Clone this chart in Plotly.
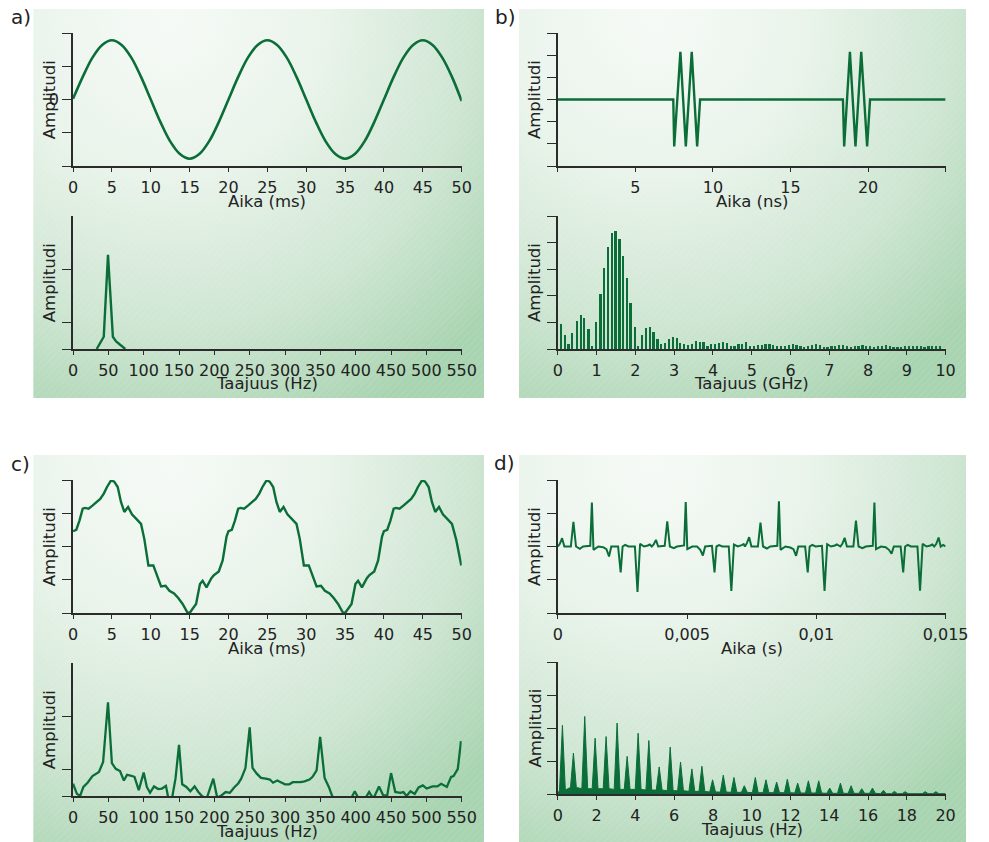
import base64
import plotly.graph_objects as go

W, H = 989, 842
GREEN = "#0b6e38"
AXC = "#2b2b2b"
FONT = "DejaVu Sans"

# ---------------- data ----------------
# a) 50 Hz sine, time (ms) / amplitude
a_time = [0, 1.25, 2.5, 3.75, 5, 6.25, 7.5, 8.75, 10, 11.25, 12.5, 13.75, 15, 16.25, 17.5, 18.75,
          20, 21.25, 22.5, 23.75, 25, 26.25, 27.5, 28.75, 30, 31.25, 32.5, 33.75, 35, 36.25, 37.5, 38.75,
          40, 41.25, 42.5, 43.75, 45, 46.25, 47.5, 48.75, 50]
a_amp = [0.02, 0.68, 1.26, 1.64, 1.78, 1.64, 1.26, 0.68, 0, -0.68, -1.26, -1.64, -1.78, -1.64, -1.26, -0.68,
         0, 0.68, 1.26, 1.64, 1.78, 1.64, 1.26, 0.68, 0, -0.68, -1.26, -1.64, -1.78, -1.64, -1.26, -0.68,
         0, 0.68, 1.26, 1.64, 1.78, 1.64, 1.26, 0.68, -0.05]
a_freq = [33.5, 43.5, 49.5, 56.4, 61, 74]
a_spec = [0.5, 0.73, 2.27, 0.73, 0.64, 0.5]

# b) pulse bursts, time (ns)
b_time = [0, 7.44, 7.5, 7.9, 8.25, 8.63, 8.98, 9.17, 18.38, 18.46, 18.83, 19.19, 19.56, 19.94, 20.13, 25]
b_amp = [0, 0, -2.12, 2.15, -2.12, 2.15, -2.12, 0, 0, -2.12, 2.15, -2.12, 2.15, -2.12, 0, 0]
b_freq = [0.075, 0.19, 0.28, 0.37, 0.49, 0.59, 0.675, 0.79, 0.88, 0.98, 1.1, 1.2, 1.29, 1.4, 1.49, 1.59,
          1.69, 1.79, 1.875, 1.99, 2.075, 2.17, 2.28, 2.375, 2.47, 2.575, 2.67, 2.77, 2.87, 2.97, 3.07,
          3.16, 3.26, 3.36,
          3.46, 3.56, 3.66, 3.76, 3.86, 3.96, 4.06, 4.16, 4.26, 4.36, 4.46, 4.56, 4.66, 4.76, 4.86, 4.96,
          5.06, 5.16, 5.26, 5.36, 5.46, 5.56, 5.66, 5.76, 5.86, 5.96, 6.06, 6.16, 6.26, 6.36, 6.46, 6.56,
          6.66, 6.76, 6.86, 6.96, 7.06, 7.16, 7.26, 7.36, 7.46, 7.56, 7.66, 7.76, 7.86, 7.96, 8.06, 8.16,
          8.26, 8.36, 8.46, 8.56, 8.66, 8.76, 8.86, 8.96, 9.06, 9.16, 9.26, 9.36, 9.46, 9.56, 9.66, 9.76, 9.86]
b_spec = [0.94, 0.53, 0.19, 0.59, 1.06, 1.28, 1.18, 0.77, 0.13, 1.0, 2.07, 3.05, 3.85, 4.35, 4.42, 4.12,
          3.5, 2.68, 1.74, 0.83, 0.13, 0.53, 0.79, 0.83, 0.63, 0.38, 0.18, 0.24, 0.39, 0.45, 0.42,
          0.21, 0.18, 0.15,
          0.2, 0.3, 0.28, 0.25, 0.12, 0.18, 0.2, 0.22, 0.25, 0.22, 0.12, 0.12, 0.18, 0.2, 0.25, 0.12,
          0.1, 0.14, 0.16, 0.2, 0.18, 0.14, 0.12, 0.12, 0.1, 0.16, 0.18, 0.14, 0.1, 0.08, 0.12, 0.16,
          0.18, 0.14, 0.08, 0.05, 0.1, 0.12, 0.16, 0.14, 0.1, 0.08, 0.1, 0.12, 0.14, 0.12, 0.1, 0.08,
          0.1, 0.12, 0.14, 0.12, 0.08, 0.06, 0.08, 0.1, 0.12, 0.1, 0.12, 0.1, 0.08, 0.1, 0.12, 0.1, 0.12]

# c) distorted periodic signal, time (ms)
c_time = [0, 0.42, 0.83, 1.25, 1.54, 2.0, 2.5, 3.0, 3.5, 3.96, 4.37, 4.9, 5.3, 5.75, 6.17, 6.6, 7.08, 7.58,
          8.1, 8.75, 9.17, 9.7, 10.33, 10.83, 11.33, 11.9, 12.4, 13.0, 13.54, 14.1, 14.7, 15.0, 15.33, 15.83,
          16.33, 16.67, 17.17, 17.8, 18.1, 18.75, 19.25, 19.75,
          20.0, 20.42, 20.83, 21.25, 21.54, 22.0, 22.5, 23.0, 23.5, 23.96, 24.37, 24.9, 25.3, 25.75, 26.17,
          26.6, 27.08, 27.58, 28.1, 28.75, 29.17, 29.7, 30.33, 30.83, 31.33, 31.9, 32.4, 33.0, 33.54, 34.1,
          34.7, 35.0, 35.33, 35.83, 36.33, 36.67, 37.17, 37.8, 38.1, 38.75, 39.25, 39.75,
          40.0, 40.42, 40.83, 41.25, 41.54, 42.0, 42.5, 43.0, 43.5, 43.96, 44.37, 44.9, 45.3, 45.75, 46.17,
          46.6, 47.08, 47.58, 48.1, 48.75, 49.3, 49.95]
c_amp = [0.46, 0.5, 0.78, 1.14, 1.16, 1.14, 1.23, 1.33, 1.43, 1.59, 1.79, 1.99, 1.95, 1.79, 1.34, 1.04, 1.19,
         0.97, 0.83, 0.68, 0.23, -0.57, -0.57, -0.92, -1.2, -1.18, -1.33, -1.41, -1.55, -1.73, -1.98, -2.0,
         -1.9, -1.73, -1.13, -1.03, -1.23, -0.95, -0.87, -0.75, -0.42, 0.3,
         0.46, 0.5, 0.78, 1.14, 1.16, 1.14, 1.23, 1.33, 1.43, 1.59, 1.79, 1.99, 1.95, 1.79, 1.34,
         1.04, 1.19, 0.97, 0.83, 0.68, 0.23, -0.57, -0.57, -0.92, -1.2, -1.18, -1.33, -1.41, -1.55, -1.73,
         -1.98, -2.0, -1.9, -1.73, -1.13, -1.03, -1.23, -0.95, -0.87, -0.75, -0.42, 0.3,
         0.46, 0.5, 0.78, 1.14, 1.16, 1.14, 1.23, 1.33, 1.43, 1.59, 1.79, 1.99, 1.95, 1.79, 1.34,
         1.04, 1.19, 0.97, 0.83, 0.68, 0.2, -0.57]
c_freq = [0, 5.5, 10, 14.7, 20.6, 27.5, 36.7, 42.6, 49.5, 55, 60.5, 66.5, 72, 76.5, 82.5, 87, 93, 100,
          104.5, 109, 114.6, 120.5, 126, 131.5, 135, 140, 145, 150, 154.5, 160.4, 166, 172, 177.4, 182.4,
          189, 198.5, 204, 210, 216, 222, 228, 234, 238, 244, 250, 254, 260, 266, 272.7, 278.6, 283, 289,
          294, 300, 306, 311, 316, 322, 327.7, 334.6, 339, 344.7, 349.7, 356, 362, 366.7, 376, 390, 398.7,
          403, 412, 419, 425, 433, 439, 444.6, 450, 456, 463, 467.5, 472, 477.5, 483.5, 489, 495, 500.5,
          508.7, 515.6, 521, 529, 535, 538.5, 544.5, 549]
c_spec = [0.73, 0.54, 0.5, 0.67, 0.75, 0.875, 0.95, 1.14, 2.26, 1.12, 1.01, 0.97, 0.79, 0.9, 0.88, 0.86,
          0.61, 0.94, 0.67, 0.56, 0.68, 0.63, 0.64, 0.69, 0.45, 0.45, 0.825, 1.46, 0.72, 0.67, 0.59, 0.68,
          0.575, 0.5, 0.45, 0.825, 0.47, 0.51, 0.575, 0.56, 0.66, 0.74, 0.825, 1.025, 1.79, 1.03, 0.92,
          0.84, 0.825, 0.81, 0.75, 0.79, 0.76, 0.72, 0.72, 0.76, 0.76, 0.76, 0.775, 0.81, 0.86, 0.98, 1.61,
          0.84, 0.67, 0.5, 0.36, 0.36, 0.59, 0.48, 0.42, 0.575, 0.45, 0.68, 0.51, 0.51, 0.93, 0.575, 0.56,
          0.575, 0.5, 0.59, 0.54, 0.66, 0.7, 0.64, 0.68, 0.68, 0.73, 0.67, 0.86, 0.875, 1.01, 1.53]

# d) periodic pulse signal, time (ms) and spectrum (Hz)
d_time_ms = [0, 0.075, 0.163, 0.250, 0.501, 0.601, 0.701, 0.851, 0.977, 1.252, 1.315, 1.377, 1.565, 1.753,
             1.878, 1.978, 2.066, 2.329, 2.429, 2.504, 2.604, 2.730, 2.980, 3.080, 3.180, 3.331, 3.481, 3.556,
             3.631, 3.706, 3.794, 3.881, 4.132, 4.232, 4.332, 4.482, 4.608, 4.883, 4.946, 5.008, 5.196, 5.384,
             5.509, 5.609, 5.697, 5.960, 6.060, 6.135, 6.235, 6.361, 6.611, 6.711, 6.811, 6.962, 7.112, 7.187,
             7.237, 7.312, 7.400, 7.487, 7.738, 7.838, 7.938, 8.088, 8.214, 8.489, 8.552, 8.614, 8.802, 8.990,
             9.115, 9.215, 9.303, 9.566, 9.666, 9.741, 9.841, 9.967, 10.217, 10.317, 10.417, 10.568, 10.718,
             10.793, 10.931, 11.006, 11.094, 11.181, 11.432, 11.532, 11.632, 11.782, 11.908, 12.183, 12.246,
             12.308, 12.496, 12.684, 12.809, 12.909, 12.997, 13.260, 13.360, 13.435, 13.535, 13.661, 13.911,
             14.011, 14.111, 14.262, 14.412, 14.487, 14.56, 14.64, 14.73, 14.81, 14.90, 15.0]
d_amp = [0.0, 0.08, 0.25, 0.0, 0.0, 0.74, 0.0, -0.07, 0.0, 0.02, 1.32, -0.1, 0.0, -0.02, -0.08, -0.3, 0.0,
         0.0, -0.78, 0.0, 0.05, 0.0, 0.0, -1.37, 0.08, 0.0, 0.03, 0.06,
         0.0, 0.06, 0.2, 0.0, 0.02, 0.76, 0.0, -0.05, 0.0, 0.03, 1.34, -0.08, 0.0, 0.0, -0.1, -0.27, 0.0,
         0.02, -0.78, 0.0, 0.04, 0.0, 0.0, -1.34, 0.06, 0.0, 0.04, 0.07,
         0.0, 0.1, 0.28, 0.0, 0.0, 0.72, 0.0, -0.06, 0.0, 0.02, 1.36, -0.1, 0.0, -0.03, -0.08, -0.28, 0.0,
         0.0, -0.78, 0.0, 0.05, 0.0, 0.02, -1.34, 0.07, 0.0, 0.03, 0.06,
         0.0, 0.08, 0.26, 0.0, 0.0, 0.78, 0.0, -0.05, 0.0, 0.02, 1.32, -0.08, 0.0, -0.02, -0.1, -0.22, 0.0,
         0.0, -0.78, 0.0, 0.05, 0.0, 0.0, -1.33, 0.08, 0.0, 0.03, 0.06,
         0.0, 0.08, 0.27, 0.0, 0.05, 0.0]
d_peak_f = [0.234, 0.801, 1.386, 1.920, 2.487, 3.055, 3.573, 4.140, 4.691, 5.225, 5.793, 6.327, 6.911,
            7.429, 7.980, 8.531, 9.082, 9.616, 10.183, 10.734, 11.285, 11.836, 12.370, 12.921, 13.455,
            14.023, 14.574, 15.125, 15.676, 16.227, 16.794, 17.362, 17.913, 18.948, 19.499]
d_peak_h = [2.08, 1.24, 2.35, 1.69, 1.74, 2.15, 1.14, 1.84, 1.62, 0.82, 1.42, 0.97, 0.76, 0.84, 0.43,
            0.57, 0.50, 0.25, 0.50, 0.43, 0.36, 0.45, 0.33, 0.40, 0.40, 0.18, 0.33, 0.25, 0.16, 0.18,
            0.11, 0.08, 0.07, 0.07, 0.07]
d_foot_h = [0.12, 0.2, 0.16, 0.16, 0.16, 0.14, 0.14, 0.14, 0.12, 0.12, 0.1, 0.1, 0.08, 0.08, 0.06, 0.06,
            0.05, 0.05, 0.04, 0.04, 0.04, 0.04, 0.03, 0.03, 0.03, 0.02, 0.02, 0.02, 0.02, 0.02, 0.01,
            0.01, 0.01, 0.01, 0.01]

# ---------------- layout helpers (picture pixels) ----------------
def px(x):
    return x / W


def py(y):
    return 1 - y / H


def xd(x0, x1):
    return [px(x0), px(x1)]


def yd(y0, y1):
    return [py(y1), py(y0)]


def bg_svg(w, h):
    svg = f'''<svg xmlns="http://www.w3.org/2000/svg" width="{w}" height="{h}" viewBox="0 0 {w} {h}">
<defs>
<radialGradient id="g" gradientUnits="userSpaceOnUse" cx="{0.3*w:.1f}" cy="{0.02*h:.1f}" r="{0.95*w:.1f}">
<stop offset="0" stop-color="#f6faf6"/>
<stop offset="0.35" stop-color="#eaf4eb"/>
<stop offset="0.7" stop-color="#cfe6d3"/>
<stop offset="1" stop-color="#a9d4b1"/>
</radialGradient>
<pattern id="p" width="5" height="5" patternUnits="userSpaceOnUse" patternTransform="rotate(45)">
<line x1="0" y1="0" x2="0" y2="5" stroke="#ffffff" stroke-width="0.6" stroke-opacity="0.28"/>
</pattern>
</defs>
<rect width="{w}" height="{h}" fill="url(#g)"/>
<rect width="{w}" height="{h}" fill="url(#p)"/>
</svg>'''
    return "data:image/svg+xml;base64," + base64.b64encode(svg.encode()).decode()


fig = go.Figure()

# panel backgrounds
boxes = [(29, 9, 493, 398), (529, 9, 989, 398), (29, 455, 493, 842), (529, 455, 989, 842)]
images = []
for (x0, y0, x1, y1) in boxes:
    images.append(dict(source=bg_svg(x1 - x0, y1 - y0), xref="paper", yref="paper",
                       x=px(x0), y=py(y0), sizex=(x1 - x0) / W, sizey=(y1 - y0) / H,
                       xanchor="left", yanchor="top", sizing="stretch", layer="below"))

# subplot geometry (picture pixels)
plots = {
    1: ((70, 470), (33, 166)),
    2: ((70, 470), (216, 349)),
    3: ((569, 968), (33, 166)),
    4: ((569, 968), (216, 349)),
    5: ((70, 470), (480, 613)),
    6: ((70, 470), (663, 796)),
    7: ((569, 968), (480, 613)),
    8: ((569, 968), (662, 794)),
}

tickfont = dict(family=FONT, size=16, color="#222")
common = dict(showline=True, linecolor=AXC, linewidth=1.6, ticks="outside", tickcolor=AXC, tickwidth=1.4,
              showgrid=False, zeroline=False, fixedrange=True, tickfont=tickfont, layer="above traces")

xcfg = {
    1: dict(range=[0, 50], tickvals=[0, 5, 10, 15, 20, 25, 30, 35, 40, 45, 50]),
    2: dict(range=[0, 550], tickvals=list(range(0, 551, 50))),
    3: dict(range=[0, 25], tickvals=[0, 5, 10, 15, 20, 25], ticktext=["", "5", "10", "15", "20", ""]),
    4: dict(range=[0, 10], tickvals=list(range(0, 11))),
    5: dict(range=[0, 50], tickvals=[0, 5, 10, 15, 20, 25, 30, 35, 40, 45, 50]),
    6: dict(range=[0, 550], tickvals=list(range(0, 551, 50))),
    7: dict(range=[0, 0.015], tickvals=[0, 0.005, 0.01, 0.015], ticktext=["0", "0,005", "0,01", "0,015"]),
    8: dict(range=[0, 20], tickvals=list(range(0, 21, 2))),
}
ycfg = {
    1: dict(range=[-2, 2], tickvals=[-2, -1, 0, 1, 2], ticktext=["", "", "0", "", ""], showticklabels=True),
    2: dict(range=[0.5, 3.0], tickvals=[0.5, 1, 2], showticklabels=False),
    3: dict(range=[-3, 3], tickvals=[-3, -2, -1, 0, 1, 2, 3], showticklabels=False),
    4: dict(range=[0, 5], tickvals=[0, 1, 2, 3, 4, 5], showticklabels=False),
    5: dict(range=[-2, 2], tickvals=[-2, -1, 0, 1, 2], showticklabels=False),
    6: dict(range=[0.5, 3.0], tickvals=[0.5, 1, 2], showticklabels=False),
    7: dict(range=[-2, 2], tickvals=[-2, -1, 0, 1, 2], showticklabels=False),
    8: dict(range=[0, 4], tickvals=[0, 1, 2, 3, 4], showticklabels=False),
}

layout_axes = {}
for i, ((x0, x1), (y0, y1)) in plots.items():
    xn = "xaxis" if i == 1 else f"xaxis{i}"
    yn = "yaxis" if i == 1 else f"yaxis{i}"
    ax = "x" if i == 1 else f"x{i}"
    ay = "y" if i == 1 else f"y{i}"
    layout_axes[xn] = dict(common, domain=xd(x0, x1), anchor=ay, ticklen=4, ticklabelstandoff=2, **xcfg[i])
    layout_axes[yn] = dict(common, domain=yd(y0, y1), anchor=ax, ticklen=9, **ycfg[i])


def ref(i):
    return ("x" if i == 1 else f"x{i}"), ("y" if i == 1 else f"y{i}")


def add_line(i, x, y, width, shape="linear"):
    xa, ya = ref(i)
    fig.add_trace(go.Scatter(x=x, y=y, mode="lines", xaxis=xa, yaxis=ya, showlegend=False, hoverinfo="skip",
                             line=dict(color=GREEN, width=width, shape=shape)))


add_line(1, a_time, a_amp, 2.6, "spline")
add_line(2, a_freq, a_spec, 2.4)
add_line(3, b_time, b_amp, 2.4)
xa, ya = ref(4)
fig.add_trace(go.Bar(x=b_freq, y=b_spec, width=0.045, xaxis=xa, yaxis=ya, showlegend=False,
                     marker=dict(color=GREEN, line=dict(width=0)), hoverinfo="skip"))
add_line(5, c_time, c_amp, 2.4)
add_line(6, c_freq, c_spec, 2.3)
add_line(7, [t / 1000 for t in d_time_ms], d_amp, 2.0)

# d) spectrum: narrow filled peaks built from peak positions/heights and foot levels
HW = 0.15
dx, dy = [0.0], [0.0]
for f, h, b in zip(d_peak_f, d_peak_h, d_foot_h):
    dx += [f - HW, f, f + HW]
    dy += [b, h, b]
dx.append(20.0)
dy.append(0.01)
xa, ya = ref(8)
fig.add_trace(go.Scatter(x=dx, y=dy, mode="lines", fill="tozeroy", fillcolor=GREEN, xaxis=xa, yaxis=ya,
                         line=dict(color=GREEN, width=1.0), showlegend=False, hoverinfo="skip"))

# axis titles and panel labels as annotations
tfont = dict(family=FONT, size=16.5, color="#222")
ann = []
xtitles = {1: "Aika (ms)", 2: "Taajuus (Hz)", 3: "Aika (ns)", 4: "Taajuus (GHz)",
           5: "Aika (ms)", 6: "Taajuus (Hz)", 7: "Aika (s)", 8: "Taajuus (Hz)"}
for i, ((x0, x1), (y0, y1)) in plots.items():
    ann.append(dict(text=xtitles[i], x=px((x0 + x1) / 2), y=py(y1 + 35), xref="paper", yref="paper",
                    xanchor="center", yanchor="middle", showarrow=False, font=tfont))
    ytx = 46 if x0 < 300 else 545
    ann.append(dict(text="Amplitudi", x=px(ytx), y=py((y0 + y1) / 2), xref="paper",
                    yref="paper", xanchor="center", yanchor="middle", showarrow=False, font=tfont, textangle=-90))

for lab, (lx, ly) in {"a)": (16, 17), "b)": (515, 17), "c)": (16, 464), "d)": (514, 463)}.items():
    ann.append(dict(text=lab, x=px(lx), y=py(ly), xref="paper", yref="paper", xanchor="center",
                    yanchor="middle", showarrow=False, font=dict(family=FONT, size=20, color="#222")))

fig.update_layout(width=W, height=H, margin=dict(l=0, r=0, t=0, b=0), paper_bgcolor="white",
                  plot_bgcolor="white", images=images, annotations=ann, bargap=0, **layout_axes)

fig.write_html("out.html", config={"displayModeBar": False},
               post_script="document.body.style.margin='0';document.body.style.overflow='hidden';")
